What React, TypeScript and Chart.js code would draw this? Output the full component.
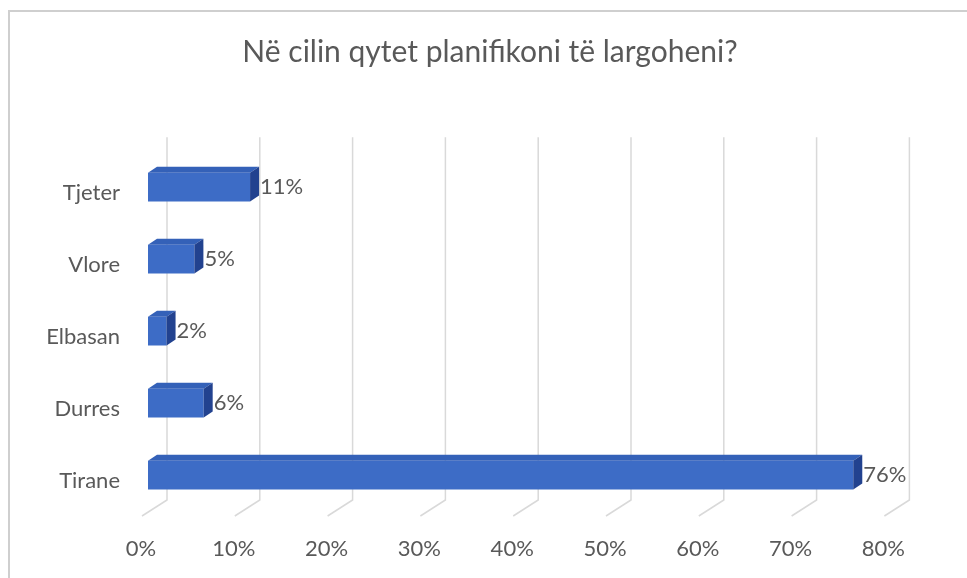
import React, { useEffect, useRef } from 'react';
import { Chart, registerables } from 'chart.js';

Chart.register(...registerables);

const categories = ['Tjeter', 'Vlore', 'Elbasan', 'Durres', 'Tirane'];
const values = [11, 5, 2, 6, 76];
const xTicks = [0, 10, 20, 30, 40, 50, 60, 70, 80];
const chartTitle = 'Në cilin qytet planifikoni të largoheni?';

const FONT = 'Lato, "Open Sans", sans-serif';
const TEXT = '#595959';
const FRONT = '#3d6cc6';
const TOP = '#3461b8';
const SIDE = '#22428f';
const GRID = '#d9d9d9';
const DX = 9;
const DY = 6;

const threeD = {
  id: 'threeD',
  beforeDraw(chart: any) {
    const ctx = chart.ctx;
    ctx.save();
    ctx.fillStyle = '#ffffff';
    ctx.fillRect(0, 0, chart.width, chart.height);
    ctx.strokeStyle = '#cfcfcf';
    ctx.lineWidth = 2;
    ctx.strokeRect(9, 11, 1200, 1200);
    ctx.restore();
  },
  beforeDatasetsDraw(chart: any) {
    const ctx = chart.ctx;
    const xs = chart.scales.x;
    const area = chart.chartArea;
    ctx.save();
    ctx.strokeStyle = GRID;
    ctx.lineWidth = 1.5;
    xTicks.forEach((v) => {
      const xf = xs.getPixelForValue(v);
      ctx.beginPath();
      ctx.moveTo(xf + 19, area.top - 14);
      ctx.lineTo(xf + 19, area.bottom - 11);
      ctx.lineTo(xf - 6, area.bottom + 5);
      ctx.stroke();
    });
    ctx.restore();
  },
  afterDatasetsDraw(chart: any) {
    const ctx = chart.ctx;
    const meta = chart.getDatasetMeta(0);
    ctx.save();
    meta.data.forEach((bar: any, i: number) => {
      const { x, y, base, height } = bar.getProps(['x', 'y', 'base', 'height'], true);
      const yt = y - height / 2;
      const yb = y + height / 2;
      ctx.fillStyle = TOP;
      ctx.beginPath();
      ctx.moveTo(base, yt);
      ctx.lineTo(base + DX, yt - DY);
      ctx.lineTo(x + DX, yt - DY);
      ctx.lineTo(x, yt);
      ctx.closePath();
      ctx.fill();
      ctx.fillStyle = SIDE;
      ctx.beginPath();
      ctx.moveTo(x, yt);
      ctx.lineTo(x + DX, yt - DY);
      ctx.lineTo(x + DX, yb - DY);
      ctx.lineTo(x, yb);
      ctx.closePath();
      ctx.fill();
      ctx.fillStyle = TEXT;
      ctx.font = `22px ${FONT}`;
      ctx.textAlign = 'left';
      ctx.textBaseline = 'middle';
      ctx.fillText(`${values[i]}%`, x + DX + 1, y);
    });
    ctx.restore();
  },
};

export default function App() {
  const ref = useRef<HTMLCanvasElement | null>(null);
  useEffect(() => {
    if (!ref.current) return;
    const chart = new Chart(ref.current, {
      type: 'bar',
      data: {
        labels: categories,
        datasets: [
          {
            data: values,
            backgroundColor: FRONT,
            borderWidth: 0,
            categoryPercentage: 1,
            barPercentage: 0.4,
          },
        ],
      },
      options: {
        indexAxis: 'y',
        responsive: false,
        animation: false,
        devicePixelRatio: 1,
        layout: { padding: { top: 0, right: 0, bottom: 0, left: 13 } },
        plugins: {
          legend: { display: false },
          tooltip: { enabled: false },
          title: {
            display: true,
            text: chartTitle,
            color: TEXT,
            font: { family: FONT, size: 30, weight: 'normal' },
            padding: { top: 34, bottom: 81.2 },
          },
        },
        scales: {
          x: {
            min: 0,
            max: 80,
            grid: { display: false, drawTicks: false },
            border: { display: false },
            ticks: {
              stepSize: 10,
              color: TEXT,
              font: { family: FONT, size: 22 },
              padding: 25,
              labelOffset: -7,
              maxRotation: 0,
              callback: (v: any) => `${v}%`,
            },
            afterFit: (s: any) => {
              s.height = 67;
            },
          },
          y: {
            grid: { display: false, drawTicks: false },
            border: { display: false },
            ticks: {
              color: TEXT,
              font: { family: FONT, size: 22 },
              padding: 28,
              labelOffset: 6,
            },
            afterFit: (s: any) => {
              s.width = 135;
            },
          },
          yRight: {
            type: 'linear',
            position: 'right',
            display: true,
            grid: { display: false, drawTicks: false },
            border: { display: false },
            ticks: { display: false },
            afterFit: (s: any) => {
              s.width = 76.6;
            },
          },
        },
      },
      plugins: [threeD],
    });
    return () => chart.destroy();
  }, []);
  return (
    <div style={{ position: 'fixed', left: 0, top: 0, width: 967, height: 578 }}>
      <canvas ref={ref} width={967} height={578} />
    </div>
  );
}
